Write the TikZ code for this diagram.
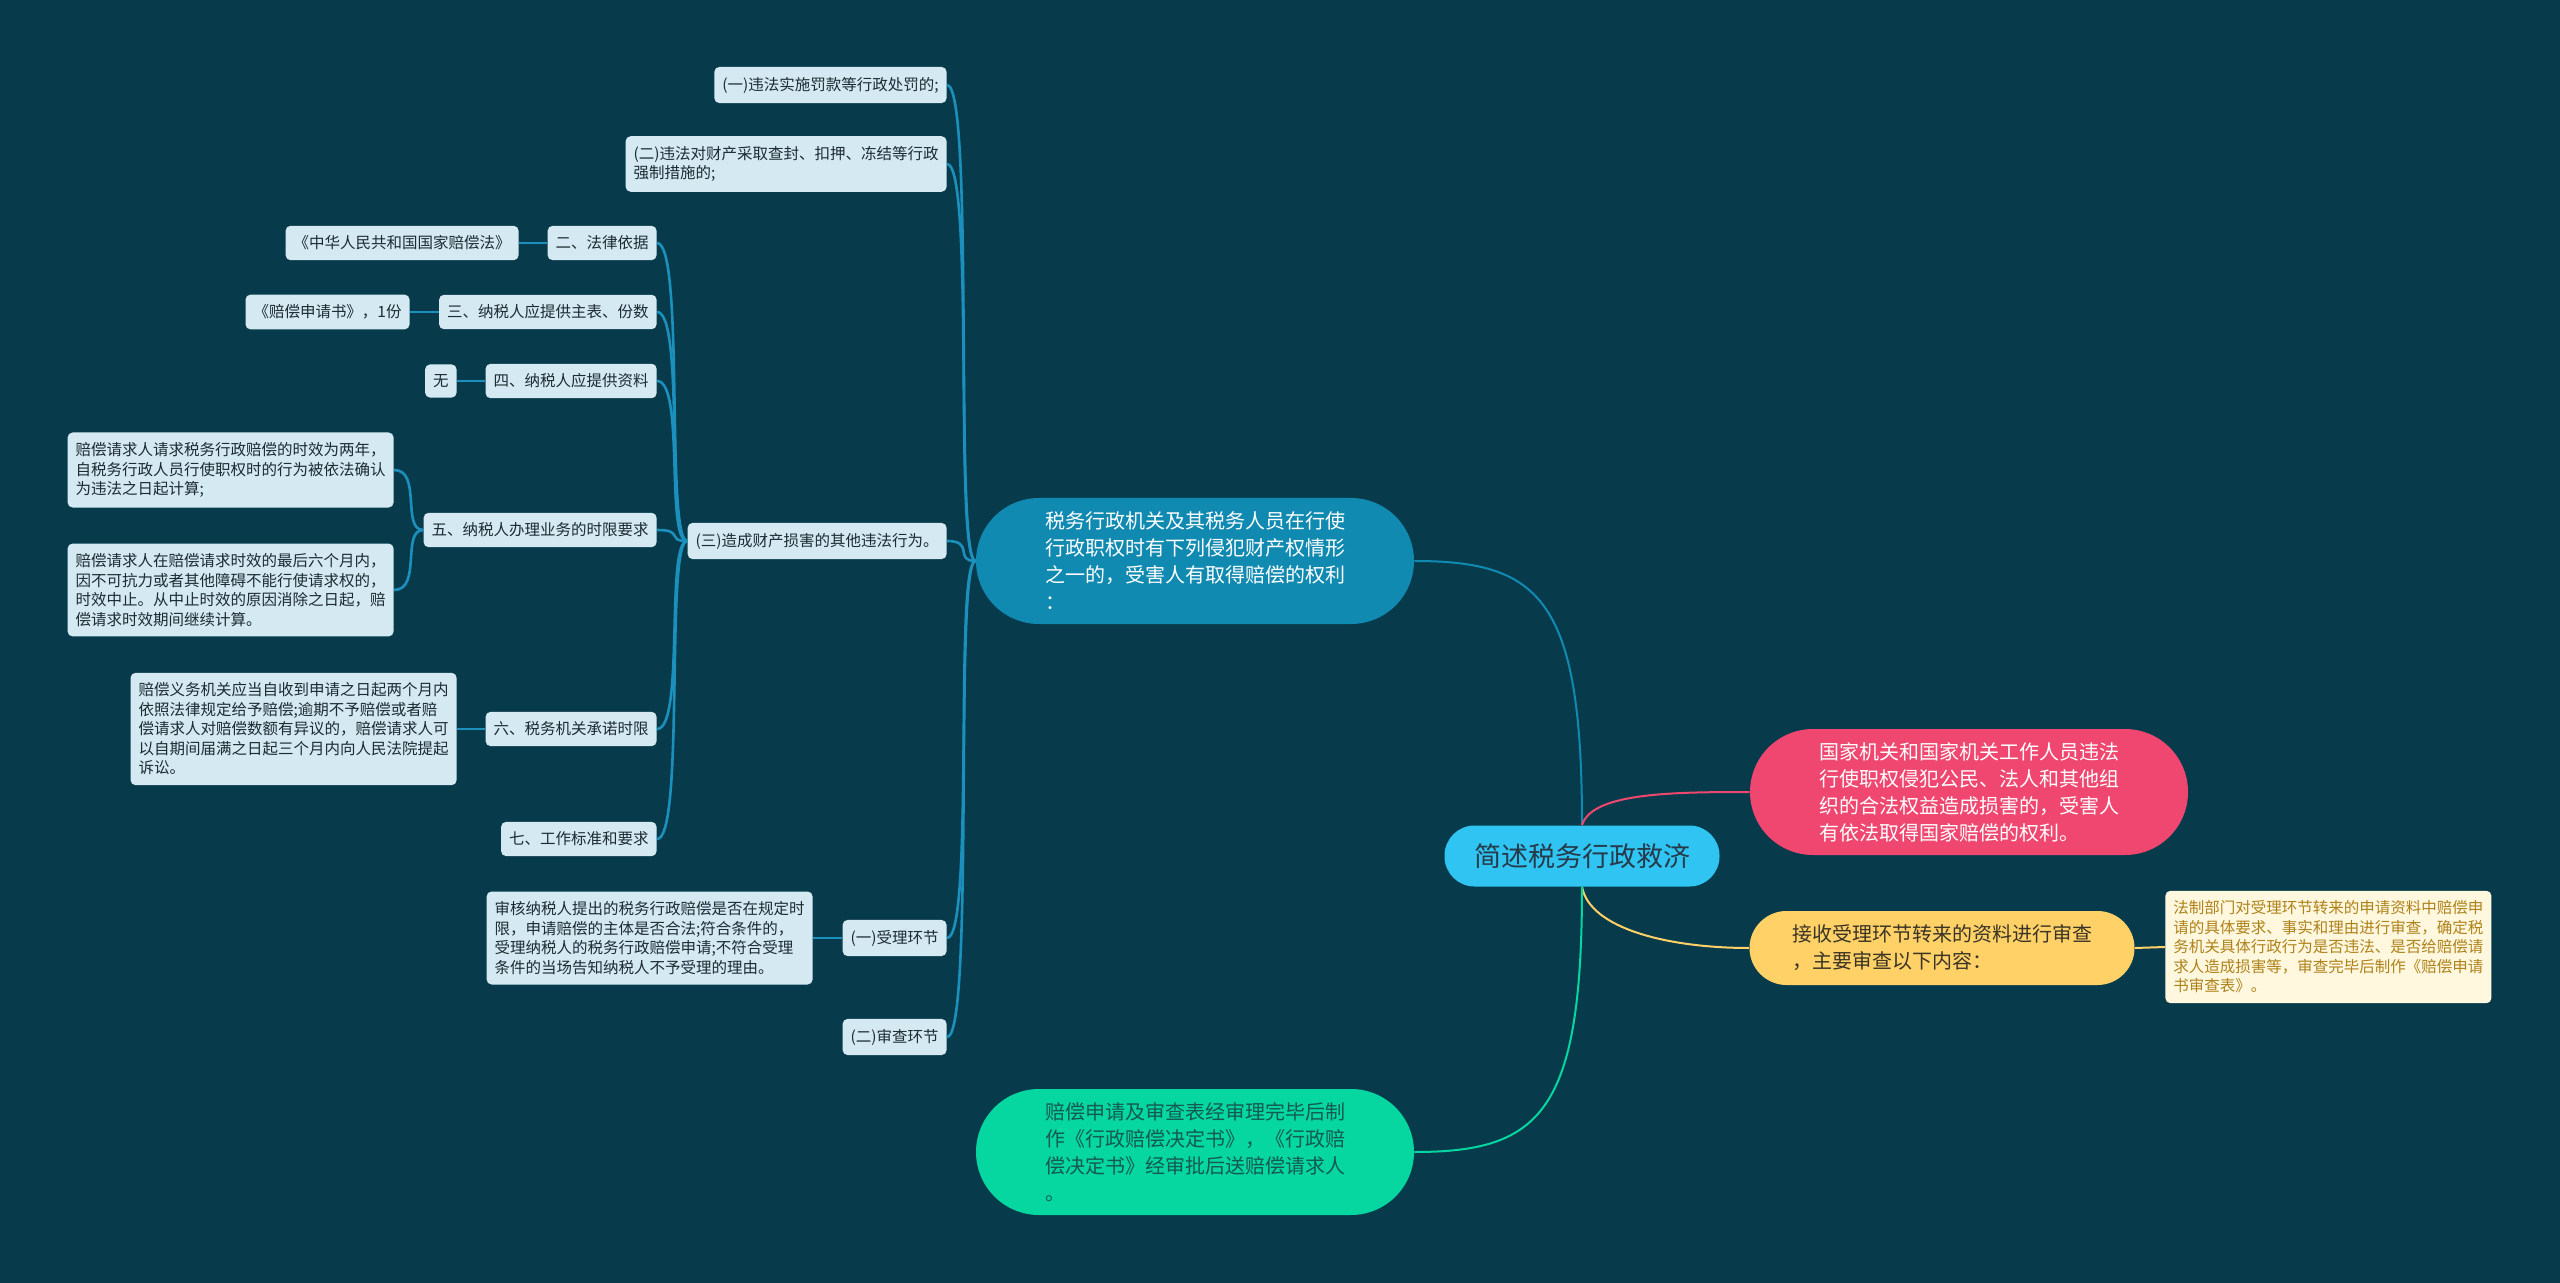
\documentclass[tikz,border=0pt]{standalone}
\usepackage{fontspec}
\usepackage{tikz}
\usepackage{xcolor}
\newfontfamily\cjk{Noto Sans CJK SC}
\definecolor{bgsea}{HTML}{073B4C}
\definecolor{rootblue}{HTML}{2FC4F2}
\definecolor{roottext}{HTML}{263A4A}
\definecolor{brblue}{HTML}{118AB2}
\definecolor{brpink}{HTML}{EF476F}
\definecolor{bryellow}{HTML}{FFD166}
\definecolor{brgreen}{HTML}{06D6A0}
\definecolor{greentext}{HTML}{145A50}
\definecolor{yellowtext}{HTML}{3A3426}
\definecolor{leafbg}{HTML}{D4E9F1}
\definecolor{leaftext}{HTML}{1D2B33}
\definecolor{creambg}{HTML}{FFF7DE}
\definecolor{creamtext}{HTML}{AE8219}
\definecolor{subline}{HTML}{1C90BD}

\begin{document}
\begin{tikzpicture}[x=0.5pt,y=-0.5pt,
  rootbox/.style={fill=rootblue,text=roottext,rounded corners=15pt,minimum width=137.5pt,minimum height=30.5pt,font=\cjk\fontsize{13.5}{16}\selectfont},
  bigbox/.style={rounded corners=31.5pt,minimum width=219pt,minimum height=63pt,align=left,font=\cjk\fontsize{10}{13.5}\selectfont},
  leaf/.style={fill=leafbg,text=leaftext,rounded corners=2.5pt,inner xsep=4pt,inner ysep=5pt,align=left,font=\cjk\fontsize{7.75}{9.75}\selectfont},
  rootline/.style={line width=1pt},
  subline/.style={draw=subline,line width=1.3pt}]
\fill[bgsea] (0,0) rectangle (2560,1283);
\useasboundingbox (0,0) rectangle (2560,1283);

\node[rootbox] (root) at (1582,856) {简述税务行政救济};
\node[bigbox,fill=brblue,text=white] (b1) at (1195,561) {税务行政机关及其税务人员在行使\\行政职权时有下列侵犯财产权情形\\之一的，受害人有取得赔偿的权利\\：};
\node[bigbox,fill=brpink,text=white] (b2) at (1969,792) {国家机关和国家机关工作人员违法\\行使职权侵犯公民、法人和其他组\\织的合法权益造成损害的，受害人\\有依法取得国家赔偿的权利。};
\node[bigbox,fill=bryellow,text=yellowtext,rounded corners=18.5pt,minimum width=192.5pt,minimum height=37pt] (b3) at (1942,948) {接收受理环节转来的资料进行审查\\，主要审查以下内容：};
\node[bigbox,fill=brgreen,text=greentext] (b4) at (1195,1152) {赔偿申请及审查表经审理完毕后制\\作《行政赔偿决定书》，《行政赔\\偿决定书》经审批后送赔偿请求人\\。};
\node[leaf,fill=creambg,text=creamtext,anchor=west] (fazhi) at (2165,947) {法制部门对受理环节转来的申请资料中赔偿申\\请的具体要求、事实和理由进行审查，确定税\\务机关具体行政行为是否违法、是否给赔偿请\\求人造成损害等，审查完毕后制作《赔偿申请\\书审查表》。};

\node[leaf,anchor=east] (yi) at (947,85) {(一)违法实施罚款等行政处罚的;};
\node[leaf,anchor=east] (er) at (947,164) {(二)违法对财产采取查封、扣押、冻结等行政\\强制措施的;};
\node[leaf,anchor=east] (san) at (947,541) {(三)造成财产损害的其他违法行为。};
\node[leaf,anchor=east] (shouli) at (947,938) {(一)受理环节};
\node[leaf,anchor=east] (shencha) at (947,1037) {(二)审查环节};
\node[leaf,anchor=east] (shenhe) at (813,938) {审核纳税人提出的税务行政赔偿是否在规定时\\限，申请赔偿的主体是否合法;符合条件的，\\受理纳税人的税务行政赔偿申请;不符合受理\\条件的当场告知纳税人不予受理的理由。};

\node[leaf,anchor=east] (yiju) at (657,243) {二、法律依据};
\node[leaf,anchor=east] (peichangfa) at (519,243) {《中华人民共和国国家赔偿法》};
\node[leaf,anchor=east] (zhubiao) at (657,312) {三、纳税人应提供主表、份数};
\node[leaf,anchor=east] (shenqingshu) at (410,312) {《赔偿申请书》，1份};
\node[leaf,anchor=east] (ziliao) at (657,381) {四、纳税人应提供资料};
\node[leaf,anchor=east] (wu) at (457,381) {无};
\node[leaf,anchor=east] (shixian) at (657,530) {五、纳税人办理业务的时限要求};
\node[leaf,anchor=east] (liangnian) at (394,470) {赔偿请求人请求税务行政赔偿的时效为两年，\\自税务行政人员行使职权时的行为被依法确认\\为违法之日起计算;};
\node[leaf,anchor=east] (zhongzhi) at (394,590) {赔偿请求人在赔偿请求时效的最后六个月内，\\因不可抗力或者其他障碍不能行使请求权的，\\时效中止。从中止时效的原因消除之日起，赔\\偿请求时效期间继续计算。};
\node[leaf,anchor=east] (chengnuo) at (657,729) {六、税务机关承诺时限};
\node[leaf,anchor=east] (lianggeyue) at (457,729) {赔偿义务机关应当自收到申请之日起两个月内\\依照法律规定给予赔偿;逾期不予赔偿或者赔\\偿请求人对赔偿数额有异议的，赔偿请求人可\\以自期间届满之日起三个月内向人民法院提起\\诉讼。};
\node[leaf,anchor=east] (biaozhun) at (657,839) {七、工作标准和要求};

\draw[rootline,brblue] (root.north) .. controls +(0,-226) and +(126,0) .. (b1.east);
\draw[rootline,brpink] (root.north) .. controls +(10,-32) and +(-80,0) .. (b2.west);
\draw[rootline,bryellow] (root.south) .. controls +(8,42) and +(-80,0) .. (b3.west);
\draw[rootline,brgreen] (root.south) .. controls +(0,226) and +(126,0) .. (b4.east);
\draw[rootline,bryellow] (b3.east) -- (fazhi.west);

\draw[subline] (b1.west) .. controls +(-22,0) and +(28,0) .. (yi.east);
\draw[subline] (b1.west) .. controls +(-22,0) and +(28,0) .. (er.east);
\draw[subline] (b1.west) .. controls +(-22,0) and +(28,0) .. (san.east);
\draw[subline] (b1.west) .. controls +(-22,0) and +(28,0) .. (shouli.east);
\draw[subline] (b1.west) .. controls +(-22,0) and +(28,0) .. (shencha.east);
\draw[subline] (shouli.west) -- (shenhe.east);

\draw[subline] (san.west) .. controls +(-22,0) and +(28,0) .. (yiju.east);
\draw[subline] (san.west) .. controls +(-22,0) and +(28,0) .. (zhubiao.east);
\draw[subline] (san.west) .. controls +(-22,0) and +(28,0) .. (ziliao.east);
\draw[subline] (san.west) .. controls +(-22,0) and +(28,0) .. (shixian.east);
\draw[subline] (san.west) .. controls +(-22,0) and +(28,0) .. (chengnuo.east);
\draw[subline] (san.west) .. controls +(-22,0) and +(28,0) .. (biaozhun.east);
\draw[subline] (yiju.west) -- (peichangfa.east);
\draw[subline] (zhubiao.west) -- (shenqingshu.east);
\draw[subline] (ziliao.west) -- (wu.east);
\draw[subline] (chengnuo.west) -- (lianggeyue.east);
\draw[subline] (shixian.west) .. controls +(-22,0) and +(28,0) .. (liangnian.east);
\draw[subline] (shixian.west) .. controls +(-22,0) and +(28,0) .. (zhongzhi.east);
\end{tikzpicture}
\end{document}
